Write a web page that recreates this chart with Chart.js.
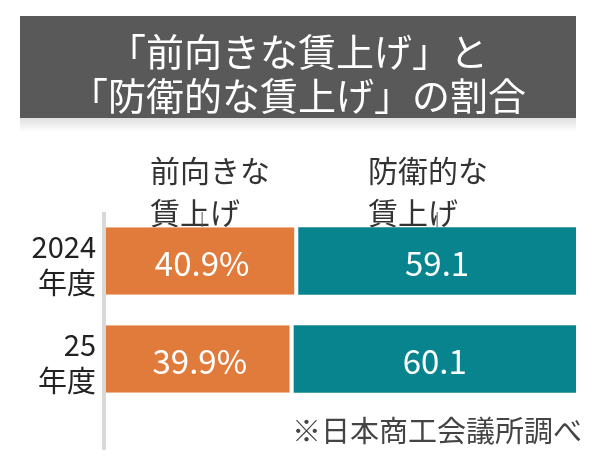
<!DOCTYPE html>
<html><head><meta charset="utf-8">
<script src="https://cdn.jsdelivr.net/npm/chart.js@4"></script>
<style>html,body{margin:0;padding:0;background:#fff}#w{width:600px;height:470px;position:relative}</style>
</head><body><div id="w"><canvas id="c" width="600" height="470"></canvas></div>
<script>
const categories = [["2024","年度"],["25","年度"]];
const forward = [40.9, 39.9];
const defensive = [59.1, 60.1];
const forwardLabels = ["40.9%", "39.9%"];
const defensiveLabels = ["59.1", "60.1"];
const titleLines = ["「前向きな賃上げ」と", "「防衛的な賃上げ」の割合"];
const seriesNames = [["前向きな","賃上げ"],["防衛的な","賃上げ"]];
const source = "※日本商工会議所調べ";
const F = '"Noto Sans CJK JP", "Noto Sans", sans-serif';

const deco = {
  id: 'deco',
  beforeDatasetsDraw(ch) {
    const c = ch.ctx, a = ch.chartArea;
    c.save();
    c.fillStyle = '#595959';
    c.fillRect(20, 16, 556, 102);
    c.fillStyle = '#fff'; c.font = '38px ' + F; c.textAlign = 'center'; c.textBaseline = 'middle';
    c.fillText(titleLines[0], 298, 52);
    c.fillText(titleLines[1], 298, 96);
    const g = c.createLinearGradient(0, 118, 0, 132);
    g.addColorStop(0, 'rgba(0,0,0,0.12)'); g.addColorStop(1, 'rgba(0,0,0,0)');
    c.fillStyle = g; c.fillRect(20, 118, 556, 14);
    // left gray bar
    c.fillStyle = '#d8d8d8'; c.fillRect(a.left - 4, 212, 4, 238);
    // series names + leader lines
    const m0 = ch.getDatasetMeta(0).data[0], m1 = ch.getDatasetMeta(1).data[0];
    c.fillStyle = '#333'; c.font = '30px ' + F; c.textAlign = 'left'; c.textBaseline = 'alphabetic';
    c.fillText(seriesNames[0][0], 150, 182); c.fillText(seriesNames[0][1], 150, 224);
    c.fillText(seriesNames[1][0], 368, 182); c.fillText(seriesNames[1][1], 368, 224);
    c.strokeStyle = '#555'; c.lineWidth = 1;
    const x0 = (m0.base + m0.x) / 2, x1 = (m1.base + m1.x) / 2;
    c.beginPath(); c.moveTo(x0, 212); c.lineTo(x0, 227); c.moveTo(x1, 212); c.lineTo(x1, 227); c.stroke();
    // y labels
    c.font = '29px ' + F; c.textAlign = 'right'; c.fillStyle = '#222';
    ch.getDatasetMeta(0).data.forEach((b, i) => {
      c.fillText(categories[i][0], 96, b.y - 3);
      c.fillText(categories[i][1], 96, b.y + 33);
    });
    c.font = '29px ' + F; c.fillStyle = '#444'; c.textAlign = 'right';
    c.fillText(source, 582, 442);
    c.restore();
  },
  afterDatasetsDraw(ch) {
    const c = ch.ctx;
    c.save();
    c.fillStyle = '#fff'; c.font = '33px ' + F; c.textAlign = 'center'; c.textBaseline = 'middle';
    [forwardLabels, defensiveLabels].forEach((labs, d) => {
      ch.getDatasetMeta(d).data.forEach((b, i) => c.fillText(labs[i], (b.base + b.x) / 2, b.y + 2));
    });
    c.restore();
  }
};

new Chart(document.getElementById('c'), {
  type: 'bar',
  data: {
    labels: categories.map(l => l.join('')),
    datasets: [
      { data: forward, backgroundColor: '#E07B3C', borderColor: '#fff', borderWidth: {right: 4}, borderSkipped: false },
      { data: defensive, backgroundColor: '#08848E', borderWidth: 0 }
    ]
  },
  options: {
    indexAxis: 'y', responsive: false, animation: false,
    layout: { padding: { left: 106, right: 24, top: 212, bottom: 62 } },
    categoryPercentage: 0.69, barPercentage: 1,
    scales: {
      x: { stacked: true, min: 0, max: 100, display: false },
      y: { stacked: true, display: false }
    },
    plugins: { legend: { display: false }, tooltip: { enabled: false } }
  },
  plugins: [deco]
});
</script></body></html>
